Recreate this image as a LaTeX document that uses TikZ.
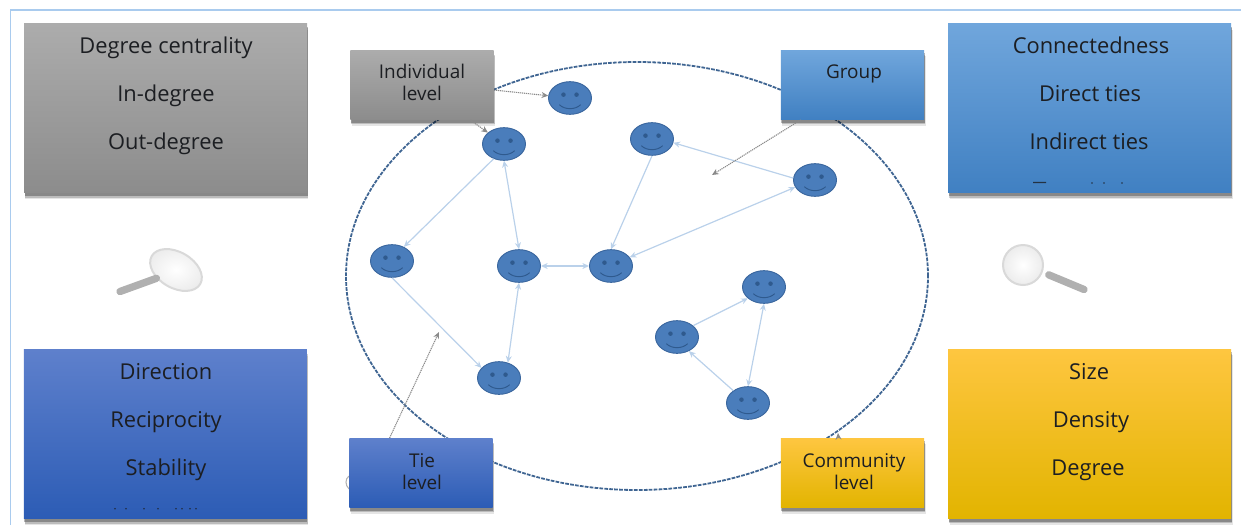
\documentclass[tikz,border=0pt]{standalone}
\usepackage{fontspec}
\setmainfont{Open Sans}
\usetikzlibrary{shapes.geometric,arrows.meta}
\definecolor{txt}{HTML}{1C1E22}
\definecolor{facefill}{HTML}{4A7DBB}
\definecolor{faceline}{HTML}{3A669E}
\definecolor{faceink}{HTML}{2F5A8E}
\definecolor{edgeblue}{HTML}{BAD1EA}
\definecolor{framec}{HTML}{A9CBEE}
\definecolor{ringc}{HTML}{3F6592}
\definecolor{ptr}{HTML}{8A8A8A}
\tikzset{
  softshadow/.style={
    preaction={fill=black,opacity=.10,transform canvas={xshift=1pt,yshift=-4.5pt}},
    preaction={fill=black,opacity=.18,transform canvas={xshift=.7pt,yshift=-3.4pt}},
    preaction={fill=black,opacity=.28,transform canvas={xshift=.4pt,yshift=-2.2pt}}},
  panel/.style={rectangle,inner sep=0pt,minimum width=212.25pt,minimum height=127pt,softshadow},
  tag/.style={rectangle,inner sep=0pt,minimum width=107.5pt,minimum height=52pt,softshadow},
  grayfill/.style={top color={rgb,255:red,172;green,172;blue,172},middle color={rgb,255:red,160;green,160;blue,160},bottom color={rgb,255:red,140;green,140;blue,140}},
  skyfill/.style={top color={rgb,255:red,112;green,166;blue,220},middle color={rgb,255:red,84;green,152;blue,221},bottom color={rgb,255:red,64;green,128;blue,194}},
  bluefill/.style={top color={rgb,255:red,94;green,128;blue,204},middle color={rgb,255:red,62;green,104;blue,192},bottom color={rgb,255:red,44;green,92;blue,181}},
  goldfill/.style={top color={rgb,255:red,254;green,198;blue,64},middle color={rgb,255:red,255;green,196;blue,0},bottom color={rgb,255:red,226;green,180;blue,0}},
  bigtext/.style={text=txt,font=\fontsize{16.4}{18}\selectfont,inner sep=0pt,anchor=base},
  smalltext/.style={text=txt,font=\fontsize{14.2}{16}\selectfont,inner sep=0pt,anchor=base},
  face/.style={ellipse,inner sep=0pt,minimum width=32.25pt,minimum height=24.5pt,fill=facefill,draw=faceline,line width=.7pt,
    path picture={
      \begin{scope}[shift={(path picture bounding box.center)}]
        \fill[faceink] (-4.9pt,2.5pt) circle (1.7pt) (4.9pt,2.5pt) circle (1.7pt);
        \draw[faceink,line width=.7pt] (-8pt,-5pt) .. controls (-4pt,-9pt) and (4pt,-9pt) .. (8pt,-5pt);
      \end{scope}}},
  tie/.style={draw=edgeblue,line width=.9pt},
  tip/.style={-{Stealth[length=5pt,width=4.5pt]}},
  bothtips/.style={{Stealth[length=5pt,width=4.5pt]}-{Stealth[length=5pt,width=4.5pt]}},
  pointer/.style={draw=ptr,line width=.8pt,dash pattern=on .9pt off .6pt,-{Stealth[length=5pt,width=4.5pt]}},
  lens/.style={ellipse,inner sep=0pt,draw=gray!30,line width=1.5pt,inner color=white,outer color=gray!15},
  handle/.style={draw=gray!62,line width=5.5pt,line cap=round}
}
\begin{document}
\begin{tikzpicture}[x=0.75pt,y=-0.75pt]
\useasboundingbox (0,0) rectangle (1241,525);
% frame
\coordinate (fb) at (10.7,525);
\coordinate (fc) at (10.7,10);
\coordinate (fr) at (1241,10);
\draw[framec,line width=1.1pt] (fb) -- (fc) -- (fr);
% ring
\node[ellipse,draw=ringc,line width=1.35pt,dash pattern=on 2.8pt off .9pt,inner sep=0pt,minimum width=436.5pt,minimum height=321pt] (ring) at (637,276) {};
% faces
\node[face] (f1) at (570,98) {};
\node[face] (f2) at (504,144) {};
\node[face] (f3) at (652,139) {};
\node[face] (f4) at (815,180) {};
\node[face] (f5) at (392,261) {};
\node[face] (f6) at (519,266) {};
\node[face] (f7) at (611,266) {};
\node[face] (f8) at (764,287) {};
\node[face] (f9) at (677,337) {};
\node[face] (f10) at (499,378) {};
\node[face] (f11) at (748,403) {};
% ties
\draw[tie,tip] (f2.-125) -- (f5.50);
\draw[tie,bothtips] (f2.south) -- (f6.north);
\draw[tie,bothtips] (f6.east) -- (f7.west);
\draw[tie,bothtips] (f6.south) -- (f10.60);
\draw[tie,tip] (f5.south) -- (f10.150);
\draw[tie,tip] (f3.south) -- (f7.north);
\draw[tie,tip] (f4.175) -- (f3.-10);
\draw[tie,bothtips] (f4.200) -- (f7.25);
\draw[tie,tip] (f9.35) -- (f8.215);
\draw[tie,bothtips] (f8.south) -- (f11.north);
\draw[tie,tip] (f11.140) -- (f9.-50);
% panels
\node[panel,grayfill] (pa) at (165.5,108.3) {};
\node[panel,skyfill] (pb) at (1089.7,108.3) {};
\node[panel,bluefill] (pc) at (165.3,434.3) {};
\node[panel,goldfill] (pd) at (1089.7,434) {};
\node[bigtext] (a1) at (166,53) {Degree centrality};
\node[bigtext] (a2) at (166,101) {In-degree};
\node[bigtext] (a3) at (166,149.5) {Out-degree};
\node[bigtext] (b1) at (1091,53) {Connectedness};
\node[bigtext] (b2) at (1090,101) {Direct ties};
\node[bigtext] (b3) at (1089,149.5) {Indirect ties};
\node[bigtext] (c1) at (166,379) {Direction};
\node[bigtext] (c2) at (166,427) {Reciprocity};
\node[bigtext] (c3) at (166,475) {Stability};
\node[bigtext] (d1) at (1089,379) {Size};
\node[bigtext] (d2) at (1091,427) {Density};
\node[bigtext] (d3) at (1088,475) {Degree};
% cut-off remains of lines
\fill[txt,opacity=.8] (1033,181.8) rectangle (1046,183)
  (1092,183) circle (.7pt) (1104,183) circle (.7pt) (1122,183) circle (.7pt)
  (835,109) circle (.8pt) (871,109) circle (.8pt)
  (115,508.7) circle (.6pt) (126,508.7) circle (.6pt) (144,508.7) circle (.6pt) (158,508.7) circle (.6pt)
  (176,508.7) circle (.6pt) (182,508.7) circle (.6pt) (190,508.7) circle (.6pt) (196,508.7) circle (.6pt);
\draw[gray!60,line width=.8pt] (349,476) .. controls (345,479) and (345,485) .. (349,489);
% tags
\node[tag,grayfill] (ind) at (422,85) {};
\node[tag,skyfill] (grp) at (852.5,85) {};
\node[tag,bluefill] (tl) at (421,473) {};
\node[tag,goldfill] (com) at (852.5,473) {};
\node[smalltext] (i1) at (422,78) {Individual};
\node[smalltext] (i2) at (422,100) {level};
\node[smalltext] (g1) at (854,78) {Group};
\node[smalltext] (t1) at (422,467) {Tie};
\node[smalltext] (t2) at (422,489) {level};
\node[smalltext] (k1) at (854,467) {Community};
\node[smalltext] (k2) at (854,489) {level};
% pointers
\coordinate (gend) at (712,175);
\coordinate (tend) at (439,332);
\coordinate (cend) at (838,433);
\draw[pointer] (ind.-4) -- (f1);
\draw[pointer] (ind.-36) -- (f2);
\draw[pointer] (grp.214) -- (gend);
\draw[pointer] (tl.132) -- (tend);
\draw[pointer] (com.112) -- (cend);
% magnifiers
\coordinate (hl) at (120,291.5);
\coordinate (hr) at (1084,289.5);
\node[lens,rotate=-30,minimum width=42pt,minimum height=27pt] (ll) at (176,270) {};
\node[lens,minimum width=30pt,minimum height=30pt] (lr) at (1023,265) {};
\draw[handle] (ll.233) -- (hl);
\draw[handle] (lr.-24) ++(5pt,-1pt) -- (hr);
\end{tikzpicture}
\end{document}
